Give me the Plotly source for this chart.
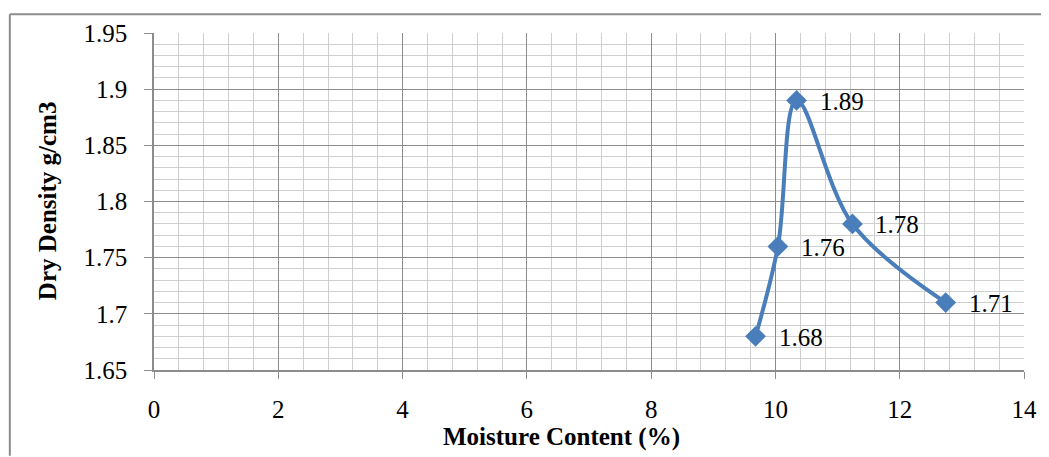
import plotly.graph_objects as go

moisture = [9.68, 10.04, 10.34, 11.24, 12.74]
density = [1.68, 1.76, 1.89, 1.78, 1.71]
labels = ["1.68", "1.76", "1.89", "1.78", "1.71"]
x_ticks = [0, 2, 4, 6, 8, 10, 12, 14]
y_ticks = [1.65, 1.7, 1.75, 1.8, 1.85, 1.9, 1.95]
y_tick_text = ["1.65", "1.7", "1.75", "1.8", "1.85", "1.9", "1.95"]

FONT = "Liberation Serif, Times New Roman, serif"
BLUE = "#4A7EBB"
GRID_MAJOR = "#8c8c8c"
GRID_MINOR = "#cfcfcf"

# page body has 8px margin; figure occupies 8..1049 x 8..457
W, H = 1041, 449
ML, MR, MT, MB = 146, 20, 20, 87
PW, PH = W - ML - MR, H - MT - MB


def px(sx):
    return (sx - 8 - ML) / PW


def py(sy):
    return (H - MB - (sy - 8)) / PH


fig = go.Figure()
fig.add_trace(go.Scatter(
    x=moisture, y=density, mode="lines+markers",
    line=dict(color=BLUE, width=4, shape="spline", smoothing=1.0),
    marker=dict(symbol="diamond", size=16, color=BLUE),
    showlegend=False, hoverinfo="skip",
))

for xv, yv, t in zip(moisture, density, labels):
    fig.add_annotation(x=xv, y=yv, text=t, showarrow=False, xanchor="left",
                       yanchor="middle", xshift=21, yshift=-1,
                       font=dict(family=FONT, size=25, color="black"))

fig.update_layout(
    width=W, height=H,
    margin=dict(l=ML, r=MR, t=MT, b=MB),
    paper_bgcolor="white", plot_bgcolor="white",
    font=dict(family=FONT, size=25, color="black"),
    xaxis=dict(range=[0, 14], tickvals=x_ticks, ticktext=[str(v) for v in x_ticks],
               showgrid=True, gridcolor=GRID_MAJOR, gridwidth=1,
               minor=dict(dtick=0.4, tick0=0, showgrid=True, gridcolor=GRID_MINOR, gridwidth=1),
               showline=True, linecolor=GRID_MAJOR, linewidth=1.5,
               ticks="outside", ticklen=7, tickcolor=GRID_MAJOR,
               ticklabelstandoff=9,
               zeroline=False, fixedrange=True,
               tickfont=dict(family=FONT, size=25)),
    yaxis=dict(range=[1.65, 1.95], tickvals=y_ticks, ticktext=y_tick_text,
               showgrid=True, gridcolor=GRID_MAJOR, gridwidth=1,
               minor=dict(dtick=0.01, tick0=1.65, showgrid=True, gridcolor=GRID_MINOR, gridwidth=1),
               showline=True, linecolor=GRID_MAJOR, linewidth=1.5,
               ticks="outside", ticklen=8, tickcolor=GRID_MAJOR,
               ticklabelstandoff=12,
               zeroline=False, fixedrange=True,
               tickfont=dict(family=FONT, size=25)),
)

# axis titles
fig.add_annotation(xref="paper", yref="paper", x=px(564), y=py(438),
                   text="<b>Moisture Content (%)</b>", showarrow=False,
                   xanchor="center", yanchor="middle",
                   font=dict(family=FONT, size=25, color="black"))
fig.add_annotation(xref="paper", yref="paper", x=px(47), y=py(198),
                   text="<b>Dry Density g/cm3</b>", showarrow=False, textangle=-90,
                   xanchor="center", yanchor="middle",
                   font=dict(family=FONT, size=25, color="black"))

# chart border (top and left edges visible)
fig.add_shape(type="line", xref="paper", yref="paper",
              x0=px(9), x1=px(1049), y0=py(9), y1=py(9),
              line=dict(color=GRID_MAJOR, width=2))
fig.add_shape(type="line", xref="paper", yref="paper",
              x0=px(9), x1=px(9), y0=py(9), y1=py(457),
              line=dict(color=GRID_MAJOR, width=2))

fig.write_html("out.html")
